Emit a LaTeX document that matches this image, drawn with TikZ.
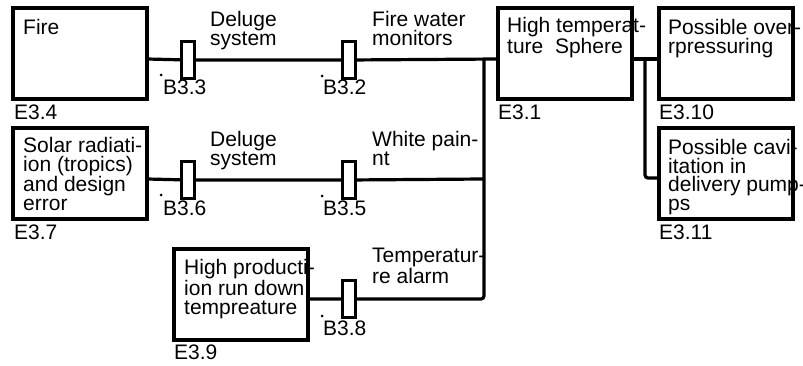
\documentclass[tikz,border=0pt]{standalone}
\usepackage{fontspec}
\setmainfont{Liberation Sans}
\begin{document}
\begin{tikzpicture}[x=1pt,y=-1pt,
  box/.style={draw,line width=4pt,minimum width=134pt,minimum height=91pt,anchor=north west,inner sep=0pt,outer sep=0pt},
  txt/.style={anchor=base west,align=left,inner sep=0pt,font=\fontsize{21}{18.5}\selectfont},
  bar/.style={draw,fill=white,line width=3.2pt,minimum width=12.5pt,minimum height=37pt,inner sep=0pt},
  wire/.style={line width=3.2pt,rounded corners=3pt},
  pt/.style={circle,fill,inner sep=0pt,minimum size=3pt}]
\useasboundingbox (0,0) rectangle (803,366);
% row levels
\coordinate (r1) at (0,59);
\coordinate (r2) at (0,179);
\coordinate (r3) at (0,299);
\coordinate (r4) at (0,178);
\coordinate (bus1) at (484,59);
\coordinate (bus2) at (484,179);
\coordinate (bus3) at (484,299);
\coordinate (sp) at (645,59);
% boxes
\node[box] (fire) at (13,8) {};
\node[box] (solar) at (13,128) {};
\node[box] (e39) at (174,249) {};
\node[box] (e31) at (498,8) {};
\node[box] (e310) at (659,8) {};
\node[box] (e311) at (659,128) {};
% barriers
\node[bar] (b33) at (188,60) {};
\node[bar] (b32) at (349,60) {};
\node[bar] (b36) at (188,180) {};
\node[bar] (b35) at (349,180) {};
\node[bar] (b38) at (349,299) {};
% connectors
\draw[wire] (fire.east |- r1) -- (b33) -- (b32) -- (e31.west |- r1);
\draw[wire] (solar.east |- r2) -- (b36) -- (b35) -- (bus2);
\draw[wire] (e39.east |- r3) -- (b38) -- (bus3) -- (bus1);
\draw[wire] (e31.east |- r1) -- (e310.west |- r1);
\draw[wire] (sp) |- (e311.west |- r4);
% box texts (positioned at the baseline of the last line)
\node[txt] (tfire) at (23,35) {Fire};
\node[txt] (tsolar) at (23,210.5) {Solar radiati-\\ion (tropics)\\and design\\error};
\node[txt] (te39) at (184,314) {High producti-\\ion run down\\tempreature};
\node[txt] (te31) at (507,53.5) {High temperat-\\ture\ \ Sphere};
\node[txt] (te310) at (668,53.5) {Possible over-\\rpressuring};
\node[txt] (te311) at (668,210.5) {Possible cavi-\\itation in\\delivery pump-\\ps};
% box labels
\node[txt] (l34) at (14,120) {E3.4};
\node[txt] (l37) at (14,240) {E3.7};
\node[txt] (l39) at (174,359) {E3.9};
\node[txt] (l31) at (498,120) {E3.1};
\node[txt] (l310) at (659,120) {E3.10};
\node[txt] (l311) at (659,240) {E3.11};
% connector texts
\node[txt] (d1) at (210,45.5) {Deluge\\system};
\node[txt] (fw) at (372,45.5) {Fire water\\monitors};
\node[txt] (d2) at (210,165.5) {Deluge\\system};
\node[txt] (wp) at (372,165.5) {White pain-\\nt};
\node[txt] (ta) at (372,283.5) {Temperatur-\\re alarm};
% barrier labels and dots
\node[txt] (lb33) at (163,95) {B3.3};
\node[txt] (lb32) at (323,95) {B3.2};
\node[txt] (lb36) at (163,215) {B3.6};
\node[txt] (lb35) at (323,215) {B3.5};
\node[txt] (lb38) at (323,335) {B3.8};
\node[pt] (p1) at (161,75) {};
\node[pt] (p2) at (322,76) {};
\node[pt] (p3) at (161,195) {};
\node[pt] (p4) at (322,196) {};
\node[pt] (p5) at (322,316) {};
\end{tikzpicture}
\end{document}
